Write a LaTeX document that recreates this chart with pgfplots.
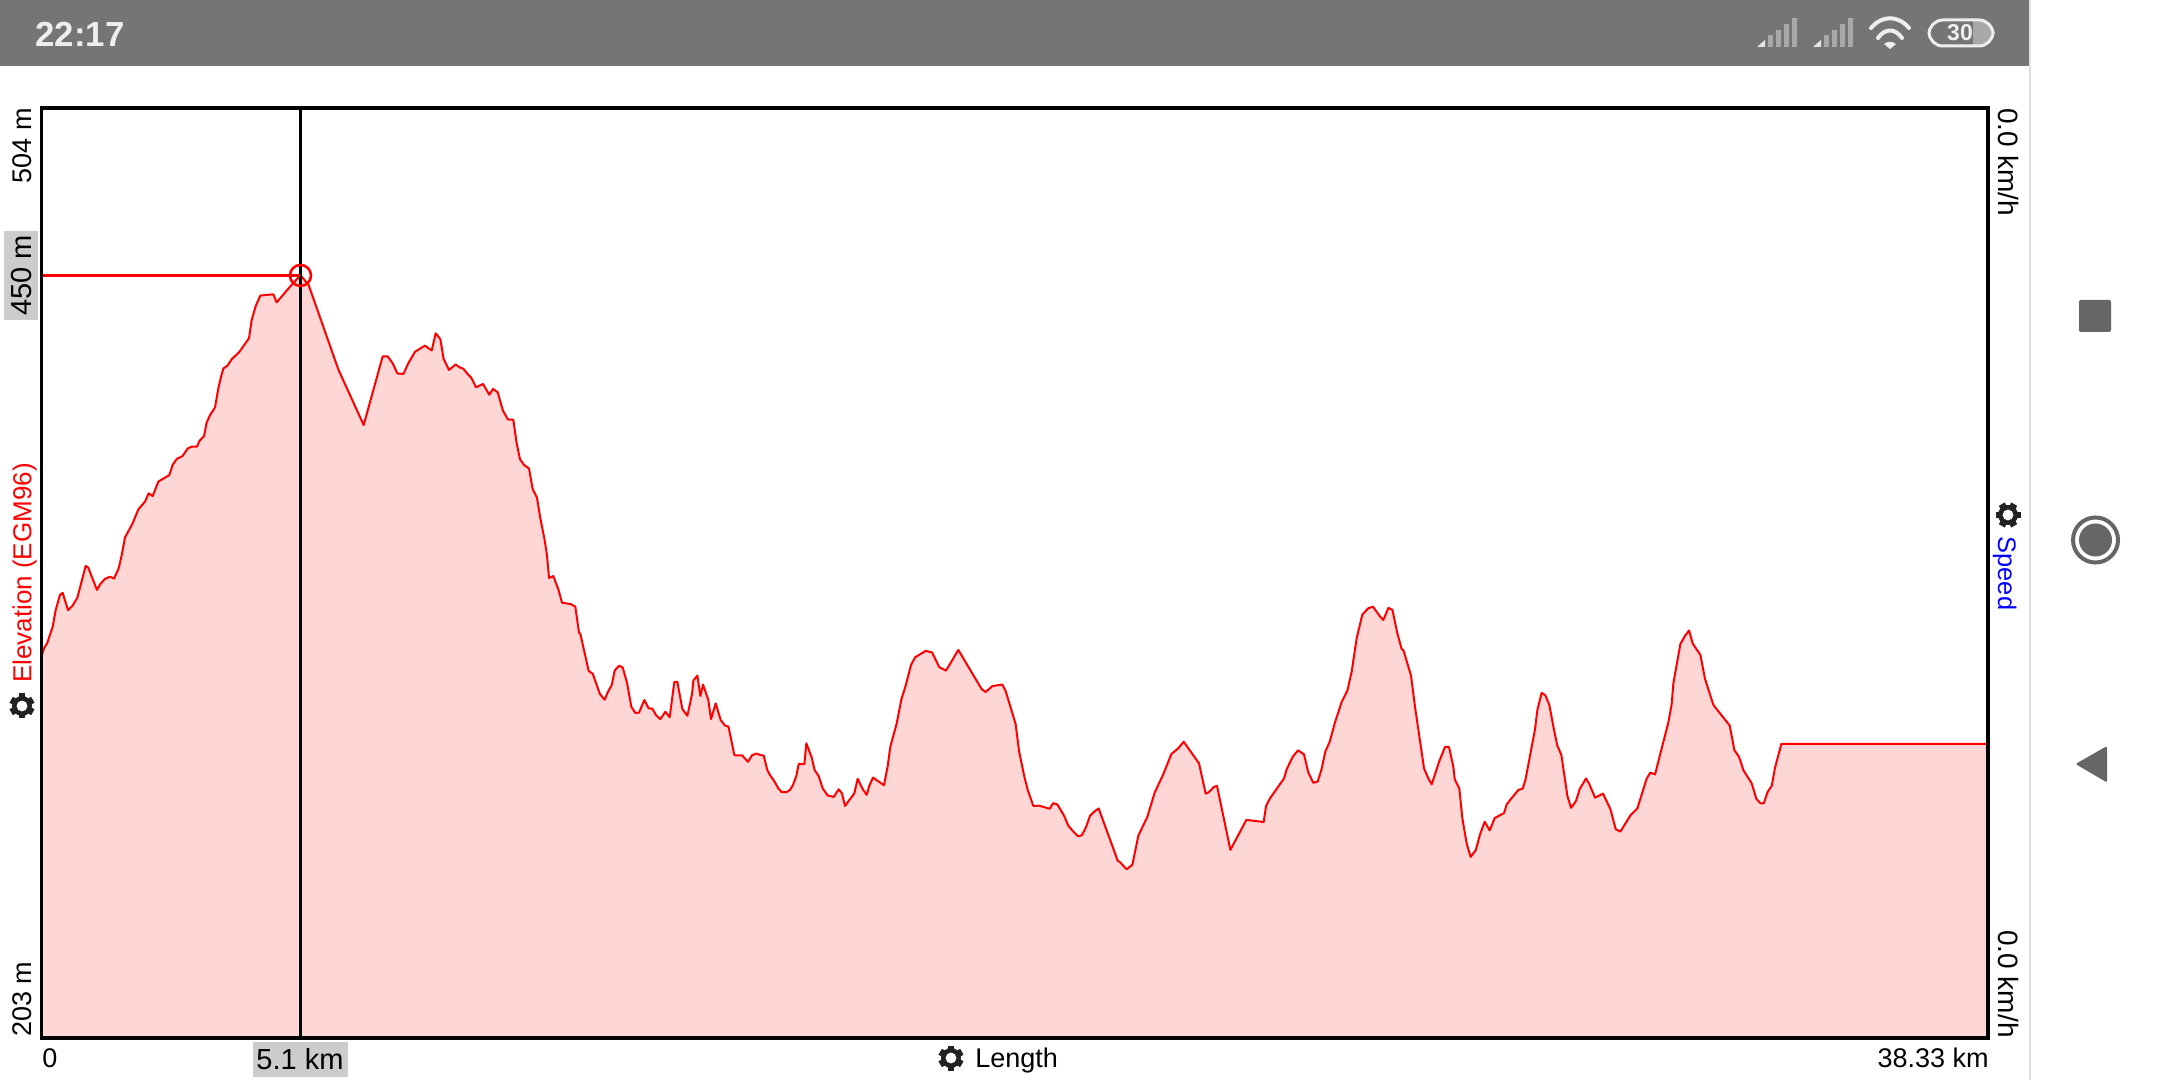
\documentclass[border=0pt]{standalone}
\usepackage{fontspec}
\usepackage{pgfplots}
\usepackage{pgfplotstable}
\pgfplotsset{compat=1.18}
\setmainfont{Liberation Sans}
\definecolor{barcol}{HTML}{757575}
\definecolor{stat}{HTML}{EEEEEE}
\definecolor{dim}{HTML}{A8A8A8}
\definecolor{navcol}{HTML}{666666}
\definecolor{hilite}{HTML}{CCCCCC}
\definecolor{areacol}{HTML}{FFD6D6}
\definecolor{gearcol}{HTML}{222222}
\newcommand\lab{\fontsize{13.5}{14}\selectfont}
\newcommand\hlab{\fontsize{14.5}{15}\selectfont}
% settings icon: #1 centre in pixels, #2 rotation
\newcommand\gear[2]{%
  \begin{scope}[shift={#1},rotate=#2]
    \foreach \a in {0,60,120}{\fill[gearcol,rotate=\a] (-3.4,-12.5) rectangle (3.4,12.5);}
    \fill[gearcol] (0,0) circle[radius=10];
    \fill[white] (0,0) circle[radius=5.4];
  \end{scope}}

% km, m
\pgfplotstableread{
km elev
0 326.5
0.049 329.1
0.115 330.9
0.220 336.1
0.279 341.5
0.364 346.4
0.417 347.1
0.522 341.5
0.607 342.8
0.706 345.5
0.870 355.8
0.922 355.2
1.093 348.0
1.152 349.8
1.250 351.6
1.349 352.3
1.428 351.7
1.520 355.0
1.579 359.3
1.644 365.0
1.795 369.6
1.907 374.1
2.038 376.6
2.110 379.3
2.189 378.4
2.301 383.1
2.517 385.2
2.583 388.5
2.662 390.4
2.780 391.4
2.878 393.8
2.957 394.4
3.062 394.4
3.108 396.2
3.200 397.8
3.253 402.2
3.318 404.6
3.417 407.1
3.482 413.3
3.535 417.0
3.581 419.7
3.660 420.6
3.751 422.8
3.889 424.9
4.086 429.5
4.139 435.4
4.218 439.9
4.309 443.3
4.565 443.7
4.631 441.1
4.907 446.4
5.100 449.9
5.261 446.7
5.845 419.4
6.344 401.4
6.718 423.6
6.817 423.6
6.915 421.4
7.007 418.1
7.125 417.9
7.224 421.4
7.355 425.1
7.552 427.1
7.683 425.5
7.762 431.1
7.854 429.2
7.919 422.8
8.025 419.2
8.156 421.0
8.228 420.1
8.307 419.6
8.392 417.9
8.464 416.7
8.556 413.6
8.694 414.7
8.819 411.2
8.891 413.1
8.983 412.0
9.088 406.0
9.186 403.2
9.291 403.1
9.357 395.5
9.423 390.3
9.501 388.5
9.600 387.3
9.672 380.7
9.757 377.9
9.823 371.2
9.902 364.7
9.954 359.3
9.994 351.9
10.079 352.5
10.178 348.2
10.250 343.9
10.427 343.4
10.512 342.6
10.584 334.2
10.611 333.8
10.775 321.8
10.854 320.9
10.998 314.3
11.090 312.5
11.156 315.1
11.228 317.2
11.287 321.9
11.372 323.5
11.444 322.9
11.530 318.0
11.615 310.2
11.694 308.2
11.766 308.3
11.871 312.4
11.956 309.7
12.029 309.6
12.101 307.5
12.186 306.2
12.285 308.6
12.370 306.8
12.462 318.3
12.521 318.3
12.619 309.5
12.718 307.3
12.810 314.3
12.836 318.7
12.915 320.3
12.974 313.7
13.026 317.4
13.131 312.4
13.184 306.2
13.276 311.3
13.375 305.9
13.460 304.1
13.528 303.8
13.645 294.5
13.794 294.5
13.912 292.4
13.991 294.5
14.080 295.1
14.149 294.6
14.221 294.4
14.293 289.7
14.345 288.1
14.424 286.3
14.510 283.8
14.575 282.6
14.674 282.6
14.739 283.3
14.792 284.7
14.864 287.8
14.910 291.7
15.022 291.6
15.061 298.4
15.166 293.8
15.225 289.7
15.304 287.8
15.383 283.8
15.481 281.5
15.599 281.0
15.698 283.5
15.763 282.2
15.822 278.1
16.006 282.2
16.072 286.9
16.170 283.6
16.249 281.7
16.302 284.7
16.374 287.3
16.590 284.8
16.663 291.0
16.715 297.3
16.840 304.8
16.932 312.6
17.011 316.7
17.122 323.7
17.201 326.2
17.411 328.3
17.536 327.8
17.680 323.0
17.811 321.9
18.054 328.6
18.514 315.9
18.592 315.0
18.724 316.9
18.921 317.4
18.986 315.3
19.183 304.6
19.249 295.9
19.354 287.6
19.420 283.3
19.531 278.1
19.643 278.2
19.853 277.2
19.918 279.0
20.004 278.6
20.135 275.0
20.220 271.7
20.319 269.8
20.411 268.3
20.483 268.6
20.562 271.0
20.647 274.9
20.732 276.3
20.818 277.3
21.192 260.4
21.238 259.9
21.369 257.6
21.481 259.1
21.599 268.5
21.776 274.6
21.920 282.4
22.091 288.4
22.249 294.9
22.386 296.8
22.492 298.9
22.793 291.9
22.925 282.1
22.990 282.6
23.089 284.3
23.148 284.6
23.411 263.9
23.726 273.6
24.067 272.9
24.113 278.1
24.192 280.6
24.467 287.0
24.520 290.0
24.638 294.0
24.743 296.1
24.861 294.8
24.946 288.9
25.045 285.6
25.130 286.0
25.202 289.7
25.281 295.7
25.367 298.9
25.472 305.2
25.603 311.8
25.714 315.4
25.800 321.6
25.898 332.4
26.010 340.1
26.128 342.1
26.220 342.6
26.358 339.4
26.423 338.3
26.522 342.2
26.601 341.6
26.699 334.0
26.785 328.8
26.817 328.6
26.968 320.3
27.047 310.2
27.224 290.3
27.310 287.0
27.375 285.1
27.520 292.4
27.638 297.2
27.716 297.2
27.802 290.8
27.828 286.8
27.920 283.7
27.979 274.1
28.064 266.0
28.143 261.6
28.242 263.8
28.327 268.9
28.419 273.0
28.517 270.2
28.616 274.2
28.800 275.8
28.852 278.6
28.937 280.4
29.082 283.3
29.167 283.7
29.220 286.5
29.410 302.9
29.456 309.2
29.541 314.7
29.614 313.9
29.692 310.8
29.784 302.7
29.850 297.6
29.929 294.6
30.047 281.4
30.119 277.5
30.217 279.7
30.290 283.6
30.414 287.0
30.473 285.4
30.592 280.8
30.749 282.1
30.894 277.1
30.999 270.6
31.090 269.8
31.294 275.2
31.425 277.3
31.609 287.0
31.681 288.9
31.773 288.3
32.036 305.2
32.101 311.1
32.134 317.8
32.272 330.5
32.364 333.2
32.443 334.9
32.515 330.7
32.666 327.0
32.758 319.2
32.922 310.8
33.244 304.1
33.335 296.2
33.427 294.0
33.513 289.7
33.677 285.4
33.769 280.4
33.854 278.9
33.913 278.9
33.992 282.7
34.071 284.6
34.136 290.5
34.261 298.2
38.33 298.2
}\profile

\begin{document}
\begin{tikzpicture}
% the scopes use reference pixels, y downwards, origin top left
\begin{scope}[x=0.5pt,y=-0.5pt]
\useasboundingbox (0,0) rectangle (2160,1080);

% status bar
\fill[barcol] (0,0) rectangle (2030,66);
\node[anchor=base west,inner sep=0,text=stat] at (35,47) {\fontsize{17.4}{18}\selectfont\bfseries 22:17};
\foreach \dx in {0,56}{
  \fill[white!90!black] (1757+\dx,47) -- (1765+\dx,40) -- (1765+\dx,47) -- cycle;
  \fill[dim] (1768+\dx,35) rectangle (1773+\dx,47);
  \fill[dim] (1776+\dx,30) rectangle (1781+\dx,47);
  \fill[dim] (1784+\dx,24) rectangle (1789+\dx,47);
  \fill[dim] (1792+\dx,18) rectangle (1797+\dx,47);
}
\draw[stat,line width=2pt,line cap=round] (1871,28) .. controls (1882,15) and (1898,15) .. (1909,28);
\draw[stat,line width=2pt,line cap=round] (1878,38) .. controls (1885,28) and (1895,28) .. (1902,38);
\fill[stat] (1884,44) .. controls (1888,41) and (1892,41) .. (1896,44) -- (1890,49) -- cycle;
\fill[dim,rounded corners=6pt] (1960,20) rectangle (1992,45);
\fill[barcol] (1950,19) rectangle (1973,46);
\draw[stat,line width=1.5pt,rounded corners=7pt] (1929,20) rectangle (1993,46);
\node[inner sep=0,text=stat] at (1960,33) {\fontsize{11.5}{12}\selectfont\bfseries 30};

% navigation column
\draw[black!12,line width=0.75pt] (2030,0) -- (2030,1080);
\fill[navcol,rounded corners=1pt] (2079,300) rectangle (2111,332);
\draw[navcol,line width=2pt] (2095.5,540) circle[radius=22.5];
\fill[navcol] (2095.5,540) circle[radius=16.5];
\fill[navcol,rounded corners=1pt] (2075.5,764) -- (2107,746) -- (2107,782.5) -- cycle;

% highlighted readouts
\fill[hilite] (4,231) rectangle (38,320);
\fill[hilite] (252.5,1042) rectangle (348,1077);
\end{scope}

\begin{axis}[
    at={(20.75pt,-519pt)},anchor=south west,
    scale only axis,width=973.25pt,height=465pt,
    xmin=0,xmax=38.33,ymin=203,ymax=504,
    xtick=\empty,ytick=\empty,
    axis on top,
    axis line style={line width=1.6pt},
]
\addplot[draw=none,fill=areacol] table[x=km,y=elev] {\profile} \closedcycle;
\addplot[red,line width=1pt,line join=round] table[x=km,y=elev] {\profile};
\addplot[black,line width=1.25pt] coordinates {(5.1,203) (5.1,504)};
\addplot[red,line width=1.35pt] coordinates {(0,449.8) (5.1,449.8)};
\addplot[only marks,mark=o,mark size=5.25pt,red,mark options={line width=1.3pt}] coordinates {(5.1,449.8)};
\end{axis}

\begin{scope}[x=0.5pt,y=-0.5pt]
% left labels
\node[rotate=90,anchor=base east,inner sep=0] at (31.5,108) {\lab 504 m};
\node[rotate=90,anchor=base,inner sep=0] at (31.5,275.5) {\hlab 450 m};
\node[rotate=90,anchor=base west,inner sep=0] at (31.5,1037) {\lab 203 m};
\node[rotate=90,anchor=base,inner sep=0,text=red] at (31.5,573) {\fontsize{13}{14}\selectfont Elevation (EGM96)};
\gear{(22,706)}{0}

% right labels
\node[rotate=-90,anchor=base west,inner sep=0] at (1998,108) {\fontsize{14}{15}\selectfont 0.0 km/h};
\node[rotate=-90,anchor=base east,inner sep=0] at (1998,1038) {\fontsize{14}{15}\selectfont 0.0 km/h};
\node[rotate=-90,anchor=base,inner sep=0,text=blue] at (1998,573.5) {\fontsize{12.7}{14}\selectfont Speed};
\gear{(2008,515)}{90}

% bottom labels
\node[anchor=base west,inner sep=0] at (42,1067) {\lab 0};
\node[anchor=base,inner sep=0] at (300,1069) {\hlab 5.1 km};
\node[anchor=base west,inner sep=0] at (975,1067) {\lab Length};
\gear{(951,1058)}{0}
\node[anchor=base east,inner sep=0] at (1989,1067) {\lab 38.33 km};
\end{scope}
\end{tikzpicture}
\end{document}
